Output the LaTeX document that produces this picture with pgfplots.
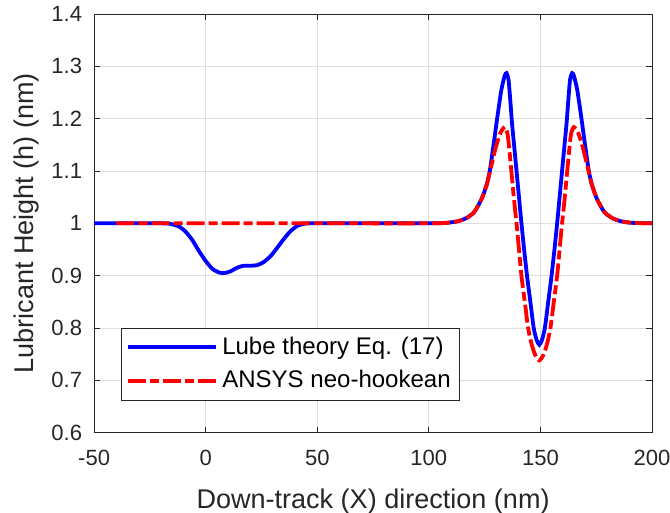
\documentclass[border=0pt]{standalone}
\usepackage{fontspec}
\setmainfont{Liberation Sans}
\usepackage{pgfplots}
\pgfplotsset{compat=1.18}
\definecolor{axgray}{RGB}{38,38,38}
\begin{document}
\begin{tikzpicture}
\begin{axis}[
  scale only axis, width=278.5pt, height=209pt,
  xmin=-50, xmax=200, ymin=0.6, ymax=1.4,
  xtick={-50,0,50,100,150,200},
  ytick={0.6,0.7,0.8,0.9,1,1.1,1.2,1.3,1.4},
  yticklabels={0.6,0.7,0.8,0.9,1,1.1,1.2,1.3,1.4},
  /pgf/number format/assume math mode=true,
  tick label style={font=\fontsize{11}{12}\selectfont, text=axgray},
  yticklabel style={xshift=-2.5pt},
  xticklabel style={yshift=-5pt},
  label style={font=\fontsize{13.5}{15}\selectfont, text=axgray},
  xlabel={Down-track (X) direction (nm)},
  ylabel={Lubricant Height (h) (nm)},
  xlabel style={yshift=-5pt},
  ylabel style={yshift=-0.5pt},
  grid=major, major grid style={color=black!13, line width=0.4pt},
  axis line style={axgray, line width=0.4pt},
  tick style={axgray, line width=0.4pt},
  tick align=inside, major tick length=3pt,
  legend style={at={(0.048,0.077)}, anchor=south west, font=\fontsize{12}{14}\selectfont,
    draw=axgray, line width=0.4pt, inner sep=2.5pt, row sep=2.5pt, cells={anchor=west}},
  legend image code/.code={\draw[#1] (0pt,0pt) -- (44pt,0pt);},
]
\coordinate (sw) at (rel axis cs:0,0);
\coordinate (ne) at (rel axis cs:1,1);
\addplot[blue, line width=1.9pt, smooth, tension=0.4] coordinates {
(-50,1) (-20,1) (-16,0.999) (-12,0.994) (-9,0.984) (-6,0.968) (-3,0.947) (0,0.928) (3,0.913)
(6,0.906) (8.5,0.905) (11,0.908) (14,0.915) (17,0.919) (20,0.919) (23,0.92) (26,0.926)
(29,0.937) (32,0.953) (35,0.97) (38,0.985) (41,0.995) (44,0.999) (48,1) (100,1)
(108,1.001) (113,1.004) (116.8,1.01) (120,1.02) (122,1.033) (124,1.05) (126,1.075) (127.3,1.1)
(129,1.15) (130.6,1.2) (132.5,1.255) (134,1.282) (134.8,1.287) (135.7,1.275) (136.5,1.235)
(137.3,1.19) (138.3,1.145) (139.3,1.1) (140.4,1.05) (141.5,1.0) (142.7,0.95) (144,0.9)
(145.5,0.85) (147,0.8) (148.3,0.777) (149.5,0.768) (150.7,0.777) (152,0.8) (153.5,0.85)
(155,0.9) (156.3,0.95) (157.5,1.0) (158.6,1.05) (159.7,1.1) (160.7,1.145) (161.7,1.19)
(162.5,1.235) (163.3,1.275) (164.2,1.287) (165,1.282) (166.5,1.255) (168.4,1.2) (170,1.15)
(171.7,1.1) (173,1.075) (175,1.05) (177,1.033) (179,1.02) (182.2,1.01) (186,1.004)
(191,1.001) (200,1)
};
\addlegendentry{Lube theory Eq. (17)}
\addplot[red, line width=1.9pt, dash pattern=on 9pt off 2pt on 4.5pt off 2pt, smooth, tension=0.4] coordinates {
(-40,1) (50,1) (100,1) (108,1.001) (113,1.004) (116.8,1.01) (120,1.02) (122,1.033) (124,1.05)
(126,1.075) (128,1.11) (130,1.145) (132,1.172) (134,1.184) (135.3,1.17) (136.2,1.135)
(137.2,1.09) (138.3,1.04) (139.3,1.0) (140.4,0.95) (141.5,0.9) (143,0.85) (144.5,0.8)
(146,0.77) (147.7,0.748) (149.5,0.738) (151.3,0.748) (153,0.77) (154.5,0.8) (156,0.85)
(157.5,0.9) (158.6,0.95) (159.7,1.0) (160.7,1.04) (161.8,1.09) (162.8,1.135) (163.7,1.17)
(165,1.184) (167,1.172) (169,1.145) (171,1.11) (173,1.075) (175,1.05) (177,1.033)
(179,1.02) (182.2,1.01) (186,1.004) (191,1.001) (200,1)
};
\addlegendentry{ANSYS neo-hookean}
\end{axis}
\pgfresetboundingbox
\path ([shift={(-47pt,-40pt)}]sw) rectangle ([shift={(9pt,7pt)}]ne);
\end{tikzpicture}
\end{document}
